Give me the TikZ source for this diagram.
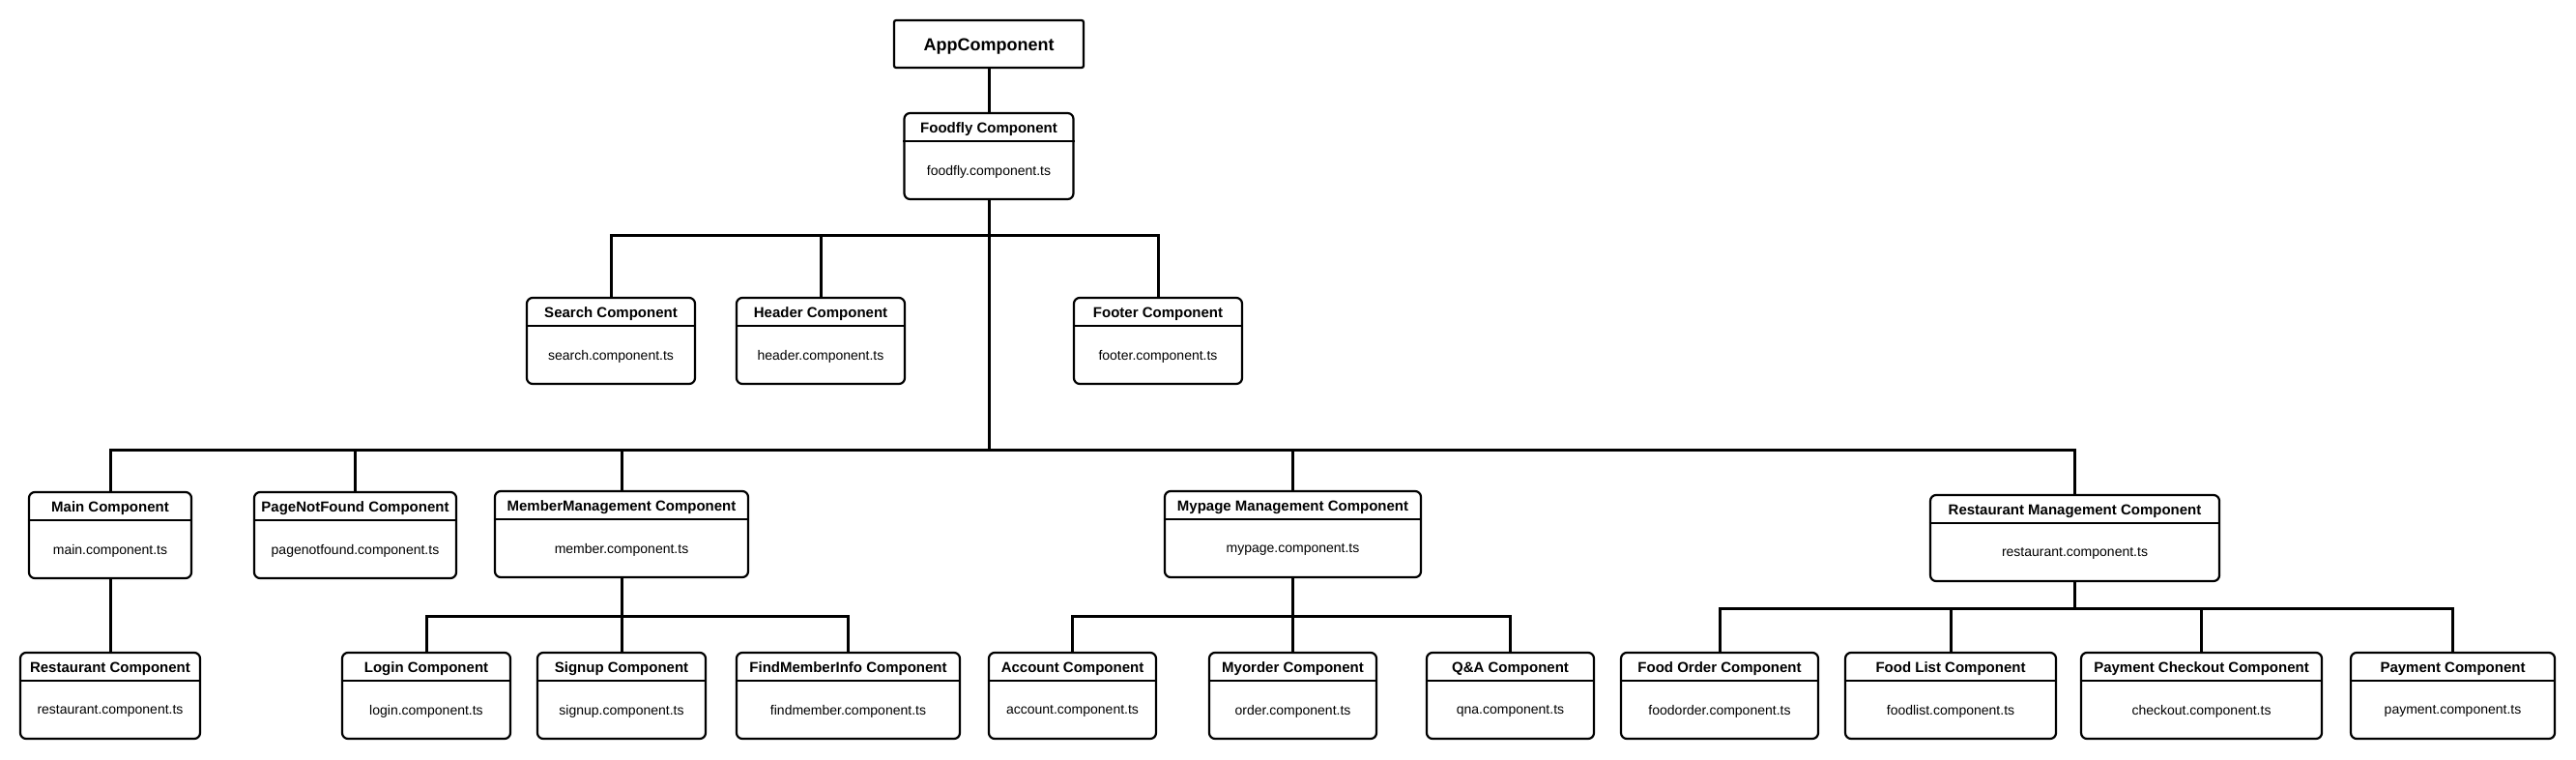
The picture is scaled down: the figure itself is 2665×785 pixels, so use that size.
\documentclass[tikz,border=0pt]{standalone}
\usepackage{fontspec}
\setmainfont{Liberation Sans}
\begin{document}
\begin{tikzpicture}[x=1pt,y=-1pt,
  cbox/.style={draw=black,line width=2.2pt,rounded corners=6pt,minimum height=89pt,inner sep=0pt,fill=white},
  appbox/.style={draw=black,line width=2.2pt,rounded corners=2pt,minimum height=49pt,minimum width=196pt,inner sep=0pt,font=\bfseries\fontsize{18}{20}\selectfont},
  sepline/.style={line width=2.2pt},
  ttl/.style={font=\bfseries\fontsize{15}{17}\selectfont,inner sep=0pt},
  fil/.style={font=\fontsize{14}{16}\selectfont,inner sep=0pt},
  link/.style={line width=3pt,line cap=rect}]
\useasboundingbox[fill=white] (0,0) rectangle (2665,785);
\newcommand\compbox[6]{%
  \node[cbox,minimum width=#4pt] (#1) at (#2,#3+44.5) {};
  \draw[sepline] ([yshift=-30pt]#1.north west) -- ([yshift=-30pt]#1.north east);
  \node[ttl] (#1-t) at ([yshift=-17.5pt]#1.north) {#5};
  \node[fil] (#1-f) at ([yshift=-61.5pt]#1.north) {#6};
}
% coordinates of bus levels
\coordinate (b1) at (1023,243);
\coordinate (b2) at (1023,465);
\coordinate (bm) at (643,637);
\coordinate (bp) at (1337.5,637);
\coordinate (br) at (2146.5,629);

\node[appbox] (app) at (1023,45.5) {};
\node[inner sep=0pt,font=\bfseries\fontsize{18}{20}\selectfont] (app-t) at ([yshift=-3pt]app.center) {AppComponent};
\compbox{foodfly}{1023}{117}{175}{Foodfly Component}{foodfly.component.ts}
\compbox{search}{632}{308}{174}{Search Component}{search.component.ts}
\compbox{header}{849}{308}{174}{Header Component}{header.component.ts}
\compbox{footer}{1198}{308}{174}{Footer Component}{footer.component.ts}
\compbox{main}{114}{509}{168}{Main Component}{main.component.ts}
\compbox{pnf}{367.5}{509}{209}{PageNotFound Component}{pagenotfound.component.ts}
\compbox{member}{643}{508}{262}{MemberManagement Component}{member.component.ts}
\compbox{mypage}{1337.5}{508}{265}{Mypage Management Component}{mypage.component.ts}
\compbox{restmgmt}{2146.5}{512}{299}{Restaurant Management Component}{restaurant.component.ts}
\compbox{restaurant}{114}{675}{186}{Restaurant Component}{restaurant.component.ts}
\compbox{login}{441}{675}{174}{Login Component}{login.component.ts}
\compbox{signup}{643}{675}{174}{Signup Component}{signup.component.ts}
\compbox{findmember}{877.5}{675}{231}{FindMemberInfo Component}{findmember.component.ts}
\compbox{account}{1109.5}{675}{173}{Account Component}{account.component.ts}
\compbox{myorder}{1337.5}{675}{173}{Myorder Component}{order.component.ts}
\compbox{qna}{1562.5}{675}{173}{Q\&A Component}{qna.component.ts}
\compbox{foodorder}{1779}{675}{204}{Food Order Component}{foodorder.component.ts}
\compbox{foodlist}{2018}{675}{218}{Food List Component}{foodlist.component.ts}
\compbox{checkout}{2277.5}{675}{249}{Payment Checkout Component}{checkout.component.ts}
\compbox{payment}{2537.5}{675}{211}{Payment Component}{payment.component.ts}

\begin{scope}[line cap=butt]
\draw[link,line cap=butt] (app.south) -- (foodfly.north);
\draw[link,line cap=butt] (foodfly.south) -- (b2);
% level 1 bus
\draw[link] (search.north) |- (b1) -| (footer.north);
\draw[link,line cap=butt] (header.north) -- (header.north |- b1);
% level 2 bus
\draw[link] (main.north) |- (b2) -| (restmgmt.north);
\draw[link,line cap=butt] (pnf.north) -- (pnf.north |- b2);
\draw[link,line cap=butt] (member.north) -- (member.north |- b2);
\draw[link,line cap=butt] (mypage.north) -- (mypage.north |- b2);
\draw[link,line cap=butt] (main.south) -- (restaurant.north);
% member bus
\draw[link,line cap=butt] (member.south) -- (bm);
\draw[link] (login.north) |- (bm) -| (findmember.north);
\draw[link,line cap=butt] (signup.north) -- (bm);
% mypage bus
\draw[link,line cap=butt] (mypage.south) -- (bp);
\draw[link] (account.north) |- (bp) -| (qna.north);
\draw[link,line cap=butt] (myorder.north) -- (bp);
% restaurant bus
\draw[link,line cap=butt] (restmgmt.south) -- (br);
\draw[link] (foodorder.north) |- (br) -| (payment.north);
\draw[link,line cap=butt] (foodlist.north) -- (foodlist.north |- br);
\draw[link,line cap=butt] (checkout.north) -- (checkout.north |- br);
\end{scope}
\end{tikzpicture}
\end{document}
